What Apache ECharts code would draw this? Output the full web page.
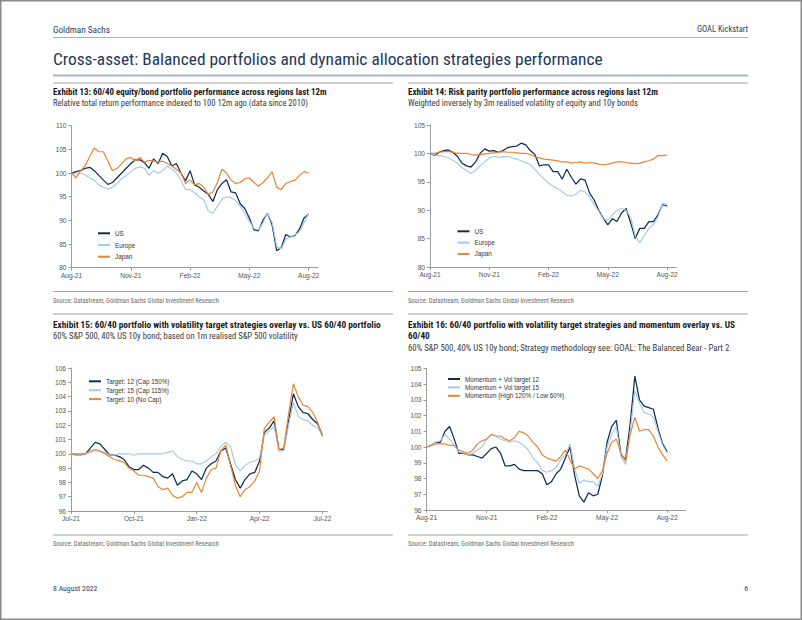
<!DOCTYPE html>
<html><head><meta charset="utf-8">
<script src="https://cdn.jsdelivr.net/npm/echarts@6/dist/echarts.min.js"></script>
<style>html,body{margin:0;padding:0;background:#fff}#c{width:802px;height:620px}</style>
</head><body><div id="c"></div>
<script>
// ---------------- DATA (weekly readings) ----------------
const ticks13 = ['Aug-21','Nov-21','Feb-22','May-22','Aug-22'];
const us13 = [100,100.3,100.5,101,101.2,100.5,99.5,98.5,97.6,98,99,100,101,102,102.8,102.8,102.2,101,103,102,104.2,103.5,101.5,102,100,98.3,100.5,97.5,97,96.2,95.5,94,96.5,97.8,98.6,96,95.8,93.5,92.5,90.5,88,87.8,90,91.5,89,83.6,84.2,87,86.5,86.8,88.2,90.5,91.3];
const eu13 = [100,99.8,100,99.6,99,98.5,97.5,97,96.6,97,97.8,98.8,99.5,100.3,101,101.3,101,99.5,100.5,100,100.5,101.5,100.8,100,98.5,96.5,96.5,95.8,95,94.3,92,91.5,93,94.5,95,94.8,94.2,93,91.5,89.8,88.3,88,89.5,91.5,89.5,84.5,84,86,86.5,87,87.5,89.5,91.5];
const jp13 = [100,99,100.5,101.5,103.5,105.3,104.5,104.5,102.5,100.5,101,102,103,103.3,102.6,103.3,102.3,102.7,102.5,102.3,102.5,102,101.5,100.8,100,97.8,98.5,97.5,97.8,97,95.5,96,98,100.8,100,98.5,97.8,98,98.8,99,98,97.2,98,99,100.3,97,96.5,97.8,98.2,98.5,99.5,100.3,100];

const ticks14 = ['Aug-21','Nov-21','Feb-22','May-22','Aug-22'];
const us14 = [100,99.6,100.2,100.5,100.6,100.2,99.5,98.3,97.8,97.6,98.5,100,100.8,100.4,100.5,100.2,100.5,101,101.2,101.3,101.8,101.5,100.5,99.8,97.8,98,98,96.8,96.8,95.5,97.2,95.8,94.6,95.5,95.3,93,91.8,90,88.6,87.4,88.5,88,89.5,90.3,87.8,85,86.8,86.8,88,88,89.2,91,90.7];
const eu14 = [100,99.7,99.6,99.5,99.2,98.8,98.3,97.5,97,96.5,97,97.8,98.5,99.2,99.5,99.3,99.4,99.5,99.2,99,98.7,98.4,98,97.2,96.3,95.5,94.8,94.2,93.8,93.3,92.6,92.5,92.8,93.5,93.2,92.3,91,89.8,88.5,88.2,89.2,90,90.3,90,88.8,85.5,84.3,85.5,86.8,87.5,88.8,91.2,91];
const jp14 = [100,100,100.2,100.3,100.3,100.2,100,100,100,99.8,99.7,99.8,99.9,100,100.1,100.2,100.3,100.2,100.2,100.1,100,100,99.8,99.4,99.2,99,98.9,98.8,98.7,98.5,98.5,98.3,98.4,98.5,98.3,98.4,98.3,98.1,98,98.1,98.3,98.5,98.5,98.4,98.3,98.2,98.3,98.5,98.7,99,99.6,99.6,99.7];

const ticks15 = ['Jul-21','Oct-21','Jan-22','Apr-22','Jul-22'];
const t12 = [100,100,100,100,100.4,100.8,100.7,100.3,99.9,99.9,99.8,99.6,99.1,98.9,98.9,99.2,99,98.7,98.7,98.4,98.3,98.6,97.8,98.1,98.2,98.8,98.6,98.2,99,99.3,99.5,100.2,100.4,99.3,98.2,97.6,98.2,98.6,98.7,99.5,101.5,101.8,102.3,100.3,100.3,102.3,104.2,103.3,102.9,102.8,102.4,102.1,101.3];
const t15 = [100,100,100,100,100.1,100.2,100.2,100.1,99.9,99.9,100,100,100,99.9,100,100,100,100,100,100,100.1,100.2,99.8,99.6,99.5,99.5,99.3,99.3,99.5,99.8,100,100.5,100.8,100.5,99.2,98.8,99.2,99.4,99.5,99.7,101.3,101.6,101.9,100.2,100.2,102,103.6,102.6,102.4,102.3,102,101.8,101.3];
const t10 = [100,99.9,99.9,100,100.2,100.3,100.2,100,99.8,99.6,99.5,99.4,99,98.8,98.5,98.5,98.4,98.3,97.7,97.5,97.6,97.1,96.9,97,97.3,97.3,98,97.3,98.3,98.9,99,100.2,100.6,99.2,97.8,97,97.5,97.7,98.1,98.8,101.8,102.2,102.6,100.3,100.4,102.8,104.9,104,103.4,103.3,102.9,102.2,101.2];

const ticks16 = ['Aug-21','Nov-21','Feb-22','May-22','Aug-22'];
const m12 = [100,100.1,100.3,100.3,101,101.3,100.5,99.6,99.6,99.5,99.5,99.4,99.3,99.6,99.9,100,99.6,98.8,98.8,98.9,98.6,98.5,98.5,98.5,98.5,98.3,97.6,97.8,98.3,98.6,99.3,100,98.2,96.9,96.5,97.1,96.9,97,98.2,100.3,101.3,101.7,99.5,99.2,101.5,104.5,103,102.6,102.5,102.4,101.2,100.2,99.7];
const m15 = [100,100.1,100.3,100.4,100.8,100.5,100.1,99.7,99.6,99.5,99.6,99.8,100,100.5,100.8,100.7,100.5,100.4,100.3,100.4,100.3,100.1,99.8,99.3,99,98.5,98.4,98.5,98.7,99.2,99.5,100.2,98.6,97.7,97.9,97.8,97.8,97.5,98.3,100,100.8,101.3,99.4,98.9,101,103.6,102.8,102.2,102.1,101.9,101,100.1,99.6];
const mom = [100,100.1,100.2,100.2,100.2,100.1,100.1,99.8,99.7,99.6,99.8,100.2,100.4,100.5,100.8,100.7,100.7,100.5,100.4,100.6,101,100.9,100.7,100.3,100,99.5,99.3,99.2,99.1,99.4,99.8,99.2,98.6,98.8,98.7,98.6,98.3,98,98.5,99.6,100.3,100.5,99.6,99.1,100.8,101.9,101,101.1,101.1,100.7,100,99.5,99.1];

// ---------------- STYLE ----------------
const NAVY = '#0f2d52', LIGHT = '#a3c9ec', ORANGE = '#ea8538';
const AX = '"Liberation Sans", Arial, sans-serif';
const ctx = document.createElement('canvas').getContext('2d');
function hasFont(name){
  const s = 'abcdefghijklmnopqrstuvwxyzABCDEFGHIJKLMNOPQRSTUVWXYZ0123456789';
  ctx.font = '40px monospace'; const a = ctx.measureText(s).width;
  ctx.font = `40px "${name}", monospace`; const b = ctx.measureText(s).width;
  ctx.font = '40px serif'; const a2 = ctx.measureText(s).width;
  ctx.font = `40px "${name}", serif`; const b2 = ctx.measureText(s).width;
  return Math.abs(b - b2) < 0.01 && (a !== b || a2 !== b2);
}
const narrow = ['Liberation Sans Narrow','Arial Narrow','Roboto Condensed','DejaVu Sans Condensed'].find(hasFont);
const HF = narrow ? `"${narrow}", "Liberation Sans", sans-serif` : '"Roboto", sans-serif';
function fit(text, weight, fam, w){ ctx.font = `${weight} 100px ${fam}`; return 100 * w / ctx.measureText(text).width; }

const graphics = [];
function txt(text, x, y, w, opt){
  opt = opt || {};
  const weight = opt.weight || 'normal', fam = opt.fam || HF;
  const size = opt.size || fit(text, weight, fam, w);
  graphics.push({type:'text', x:x, y:y, silent:true, style:{text:text, font:`${weight} ${size.toFixed(2)}px ${fam}`, fill:opt.fill || '#222', textAlign:opt.align || 'left', textVerticalAlign:'middle'}});
  return size;
}
function ln(x1, y1, x2, y2, color, w){
  graphics.push({type:'line', silent:true, shape:{x1:x1,y1:y1,x2:x2,y2:y2}, style:{stroke:color, lineWidth:w}});
}
graphics.push({type:'rect', silent:true, shape:{x:0.75,y:0.75,width:800.5,height:618.5}, style:{fill:'none', stroke:'#8a8a8a', lineWidth:1.5}});

// header
txt('Goldman Sachs', 53, 29, 57, {fill:'#2d405e'});
txt('GOAL Kickstart', 748, 29, 51, {fill:'#2d405e', align:'right'});
ln(53, 37.5, 748, 37.5, '#a7b1bf', 1);
txt('Cross-asset: Balanced portfolios and dynamic allocation strategies performance', 53, 59, 550, {fill:'#22385a'});
ln(53, 75.5, 748, 75.5, '#aab5c3', 2);
ln(53, 83, 393, 83, '#a5a5a5', 1); ln(408, 83, 748, 83, '#a5a5a5', 1);

txt('Exhibit 13: 60/40 equity/bond portfolio performance across regions last 12m', 53, 92, 274, {weight:'bold', fill:'#1a1a1a'});
txt('Relative total return performance indexed to 100 12m ago (data since 2010)', 53, 103, 255, {fill:'#3a3a3a'});
txt('Exhibit 14: Risk parity portfolio performance across regions last 12m', 408, 92, 250, {weight:'bold', fill:'#1a1a1a'});
txt('Weighted inversely by 3m realised volatility of equity and 10y bonds', 408, 103, 230, {fill:'#3a3a3a'});

ln(53, 291.5, 393, 291.5, '#a5a5a5', 1); ln(408, 291.5, 748, 291.5, '#a5a5a5', 1);
const SRC = 'Source: Datastream, Goldman Sachs Global Investment Research';
txt(SRC, 53, 300.5, 166, {fill:'#6a6a6a'}); txt(SRC, 408, 300.5, 166, {fill:'#6a6a6a'});
ln(53, 314, 393, 314, '#a5a5a5', 1); ln(408, 314, 748, 314, '#a5a5a5', 1);

txt('Exhibit 15: 60/40 portfolio with volatility target strategies overlay vs. US 60/40 portfolio', 53, 324, 328, {weight:'bold', fill:'#1a1a1a'});
txt('60% S&P 500, 40% US 10y bond; based on 1m realised S&P 500 volatility', 53, 335.5, 245, {fill:'#3a3a3a'});
const s16 = txt('Exhibit 16: 60/40 portfolio with volatility target strategies and momentum overlay vs. US', 408, 324, 327, {weight:'bold', fill:'#1a1a1a'});
txt('60/40', 408, 335.5, 0, {weight:'bold', fill:'#1a1a1a', size:s16});
txt('60% S&P 500, 40% US 10y bond; Strategy methodology see: GOAL: The Balanced Bear - Part 2', 408, 347.5, 322, {fill:'#3a3a3a'});

ln(53, 535, 393, 535, '#a5a5a5', 1); ln(408, 535, 748, 535, '#a5a5a5', 1);
txt(SRC, 53, 543.5, 166, {fill:'#6a6a6a'}); txt(SRC, 408, 543.5, 166, {fill:'#6a6a6a'});

const fs = txt('8 August 2022', 53, 588.5, 44.5, {fill:'#2d405e'});
txt('6', 748, 588.5, 0, {fill:'#2d405e', align:'right', size:fs});

// ---------------- AXES ----------------
const grids = [
  {left:71.5, top:125.7, width:54*4.56, height:142},
  {left:430, top:125, width:54*4.56, height:142},
  {left:71, top:368, width:53*4.835, height:143},
  {left:426.5, top:368.3, width:56*4.63, height:141.7}
];
const nCats = [55, 55, 54, 57];
const tickSets = [ticks13, ticks14, ticks15, ticks16];
const axisColor = '#9c9c9c';
const xAxes = nCats.map((n, k) => ({
  type:'category', gridIndex:k, boundaryGap:false,
  data: Array.from({length:n}, (_, i) => String(i)),
  axisLine:{show:true, lineStyle:{color:axisColor, width:1}},
  axisTick:{show:true, length:3, interval:(i) => i % 13 === 0 && i / 13 < tickSets[k].length, lineStyle:{color:axisColor}},
  axisLabel:{show:true, interval:(i) => i % 13 === 0 && i / 13 < tickSets[k].length, formatter:(v, i) => tickSets[k][Number(v) / 13] || '', fontSize:6.6, color:'#555', fontFamily:AX, margin:4},
  splitLine:{show:false}
}));
const yRanges = [[80,110,5],[80,105,5],[96,106,1],[96,105,1]];
const yAxes = yRanges.map((r, k) => ({
  type:'value', gridIndex:k, min:r[0], max:r[1], interval:r[2],
  axisLine:{show:true, lineStyle:{color:axisColor, width:1}},
  axisTick:{show:true, length:3, lineStyle:{color:axisColor}},
  axisLabel:{fontSize:6.6, color:'#555', fontFamily:AX, margin:5},
  splitLine:{show:false}
}));

function ser(name, data, k, color, w, z){
  return {type:'line', name:name, data:data, xAxisIndex:k, yAxisIndex:k, symbol:'none', showSymbol:false,
    lineStyle:{color:color, width:w}, itemStyle:{color:color}, z:z, animation:false, emphasis:{disabled:true}};
}
const series = [
  ser('US', us13, 0, NAVY, 1.25, 2), ser('Europe', eu13, 0, LIGHT, 1.15, 3), ser('Japan', jp13, 0, ORANGE, 1.2, 4),
  ser('US', us14, 1, NAVY, 1.25, 2), ser('Europe', eu14, 1, LIGHT, 1.15, 3), ser('Japan', jp14, 1, ORANGE, 1.2, 4),
  ser('Target: 12 (Cap 150%)', t12, 2, NAVY, 1.25, 2), ser('Target: 15 (Cap 115%)', t15, 2, LIGHT, 1.15, 3), ser('Target: 10 (No Cap)', t10, 2, ORANGE, 1.2, 4),
  ser('Momentum + Vol target 12', m12, 3, NAVY, 1.25, 2), ser('Momentum + Vol target 15', m15, 3, LIGHT, 1.15, 3), ser('Momentum (High 120% / Low 60%)', mom, 3, ORANGE, 1.2, 4)
];
function leg(names, left, top, gap){
  return {orient:'vertical', left:left, top:top, itemWidth:12, itemHeight:2, icon:'rect', itemGap:gap, selectedMode:false,
    textStyle:{fontSize:6.3, color:'#333', fontFamily:AX, lineHeight:8}, data:names};
}
const option = {
  animation:false,
  grid: grids,
  xAxis: xAxes, yAxis: yAxes, series: series,
  legend: [
    leg(['US','Europe','Japan'], 93, 224.3, 3.7),
    leg(['US','Europe','Japan'], 452.5, 222.3, 3.3),
    leg(['Target: 12 (Cap 150%)','Target: 15 (Cap 115%)','Target: 10 (No Cap)'], 84, 372.3, 0.9),
    leg(['Momentum + Vol target 12','Momentum + Vol target 15','Momentum (High 120% / Low 60%)'], 443, 370, 0.4)
  ],
  graphic: {elements: graphics}
};
const chart = echarts.init(document.getElementById('c'), null, {renderer:'svg', width:802, height:620});
chart.setOption(option);
</script></body></html>
